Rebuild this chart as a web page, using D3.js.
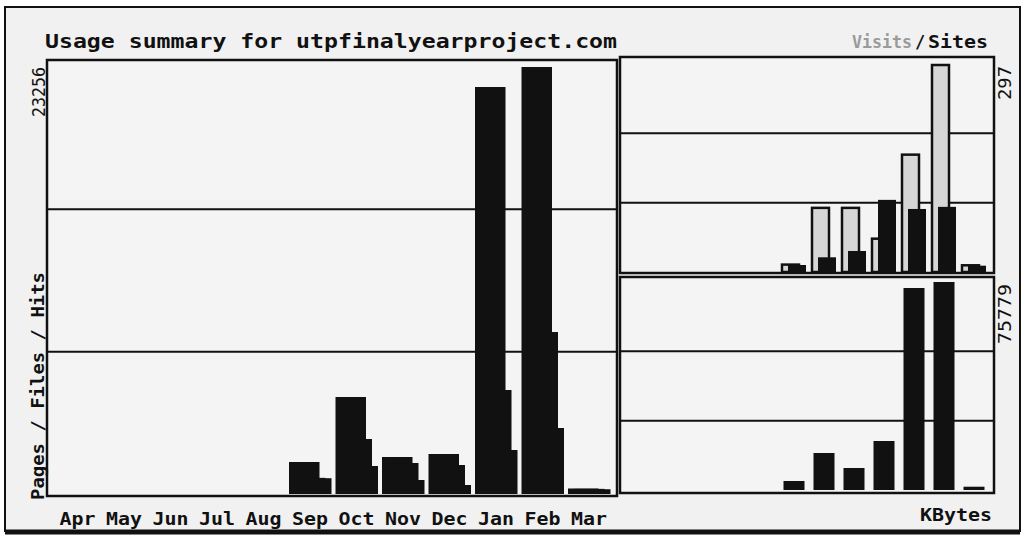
<!DOCTYPE html>
<html lang="en">
<head>
<meta charset="UTF-8">
<title>Usage summary</title>
<script src="https://cdnjs.cloudflare.com/ajax/libs/d3/7.8.5/d3.min.js"></script>
<style>
  body { margin: 0; background: #fff; }
  text { font-family: "DejaVu Sans Mono", monospace; fill: #111; }
</style>
</head>
<body>
<div id="chart"></div>
<script>
// monthly figures
var months = ["Apr","May","Jun","Jul","Aug","Sep","Oct","Nov","Dec","Jan","Feb","Mar"];
var hits   = [0,0,0,0,0,1743,5283,2015,2178,22166,23256,300];
var files  = [0,0,0,0,0,880,2995,1688,1579,5664,8822,280];
var pages  = [0,0,0,0,0,860,1525,762,490,2396,3594,260];
var visits = [0,0,0,0,0,12,93,93,49,169,297,11];
var sites  = [0,0,0,0,0,10,21,30,103,90,93,9];
var kbytes = [0,0,0,0,0,3280,13480,8015,17850,73590,75779,1200];

var w = 1031, h = 542;
var ink = "#111";

var svg = d3.select("#chart").append("svg").attr("width", w).attr("height", h);

// outer frame
svg.append("rect").attr("x", 5).attr("y", 7).attr("width", 1015).attr("height", 524)
  .style("fill", "#f1f1f1").style("stroke", ink).style("stroke-width", 2);
svg.append("line").attr("x1", 5).attr("x2", 1020).attr("y1", 532).attr("y2", 532)
  .style("stroke", ink).style("stroke-width", 5);

// panels
var main = {l: 47, r: 617, t: 60, b: 496};
var vs   = {l: 620, r: 994, t: 57, b: 273};
var kb   = {l: 620, r: 994, t: 277, b: 493};

function panel(p) {
  svg.append("rect").attr("x", p.l).attr("y", p.t).attr("width", p.r - p.l).attr("height", p.b - p.t)
    .style("fill", "#f4f4f4").style("stroke", ink).style("stroke-width", 2.5);
}
function grid(p, scale, max) {
  svg.selectAll(null).data([max / 3, max * 2 / 3]).enter().append("line")
    .attr("x1", p.l).attr("x2", p.r)
    .attr("y1", function(d){ return scale(d); })
    .attr("y2", function(d){ return scale(d); })
    .style("stroke", ink).style("stroke-width", 2);
}
function rowsOf(arr) {
  return months.map(function(m, i){ return {m: m, v: arr[i]}; }).filter(function(d){ return d.v > 0; });
}

// ---- main Pages / Files / Hits panel
panel(main);
var x = d3.scaleBand().domain(months).range([56.5, 614.5]);
var maxHits = d3.max(hits);
var y = d3.scaleLinear().domain([0, maxHits]).range([494, 67]);
grid(main, y, maxHits);

[[hits, 0], [files, 6], [pages, 12]].forEach(function(s) {
  svg.selectAll(null).data(rowsOf(s[0])).enter().append("rect")
    .attr("x", function(d){ return x(d.m) + s[1]; })
    .attr("width", 30.5)
    .attr("y", function(d){ return y(d.v); })
    .attr("height", function(d){ return y(0) - y(d.v); })
    .style("fill", ink);
});

svg.selectAll(".mon").data(months).enter().append("text")
  .attr("class", "mon")
  .attr("x", function(d){ return x(d) + 21; })
  .attr("y", 525)
  .attr("text-anchor", "middle")
  .attr("textLength", 36).attr("lengthAdjust", "spacingAndGlyphs")
  .style("font-size", "17px").style("font-weight", "bold")
  .text(function(d){ return d; });

// ---- visits / sites panel
panel(vs);
var xr = d3.scaleBand().domain(months).range([631, 991]);
var maxVis = d3.max(visits.concat(sites));
var yv = d3.scaleLinear().domain([0, maxVis]).range([272, 64]);
grid(vs, yv, maxVis);

svg.selectAll(null).data(rowsOf(visits)).enter().append("rect")
  .attr("x", function(d){ return xr(d.m) + 1; })
  .attr("width", 17)
  .attr("y", function(d){ return yv(d.v) + 1; })
  .attr("height", function(d){ return yv(0) - yv(d.v) - 1; })
  .style("fill", "#d6d6d6").style("stroke", ink).style("stroke-width", 2.5);

svg.selectAll(null).data(rowsOf(sites)).enter().append("rect")
  .attr("x", function(d){ return xr(d.m) + 7; })
  .attr("width", 18)
  .attr("y", function(d){ return yv(d.v); })
  .attr("height", function(d){ return yv(0) - yv(d.v); })
  .style("fill", ink);

// ---- kbytes panel
panel(kb);
var maxKb = d3.max(kbytes);
var yk = d3.scaleLinear().domain([0, maxKb]).range([490, 282]);
grid(kb, yk, maxKb);

svg.selectAll(null).data(rowsOf(kbytes)).enter().append("rect")
  .attr("x", function(d){ return xr(d.m) + 2.5; })
  .attr("width", 21)
  .attr("y", function(d){ return yk(d.v); })
  .attr("height", function(d){ return yk(0) - yk(d.v); })
  .style("fill", ink);

// ---- labels
svg.append("text").attr("x", 45).attr("y", 48)
  .attr("textLength", 572).attr("lengthAdjust", "spacingAndGlyphs")
  .style("font-size", "19px").style("font-weight", "bold")
  .text("Usage summary for utpfinalyearproject.com");

svg.append("text").attr("x", 852).attr("y", 48)
  .attr("textLength", 60).attr("lengthAdjust", "spacingAndGlyphs")
  .style("font-size", "17px").style("font-weight", "bold").style("fill", "#9a9a9a")
  .text("Visits");
svg.append("text").attr("x", 915).attr("y", 48)
  .style("font-size", "17px").style("font-weight", "bold")
  .text("/");
svg.append("text").attr("x", 928).attr("y", 48)
  .attr("textLength", 60).attr("lengthAdjust", "spacingAndGlyphs")
  .style("font-size", "18px").style("font-weight", "bold")
  .text("Sites");

svg.append("text").attr("x", 920).attr("y", 521)
  .attr("textLength", 72).attr("lengthAdjust", "spacingAndGlyphs")
  .style("font-size", "18px").style("font-weight", "bold")
  .text("KBytes");

function upText(tx, ty, anchor, len, size, bold, str) {
  svg.append("text")
    .attr("transform", "translate(" + tx + "," + ty + ") rotate(-90)")
    .attr("text-anchor", anchor)
    .attr("textLength", len).attr("lengthAdjust", "spacingAndGlyphs")
    .style("font-size", size + "px").style("font-weight", bold ? "bold" : "normal")
    .text(str);
}
upText(45, 67, "end", 50, 17, false, maxHits);
upText(44, 500, "start", 228, 17, true, "Pages / Files / Hits");
upText(1011, 66, "end", 34, 17, false, maxVis);
upText(1011, 284, "end", 60, 17, false, maxKb);
</script>
</body>
</html>
